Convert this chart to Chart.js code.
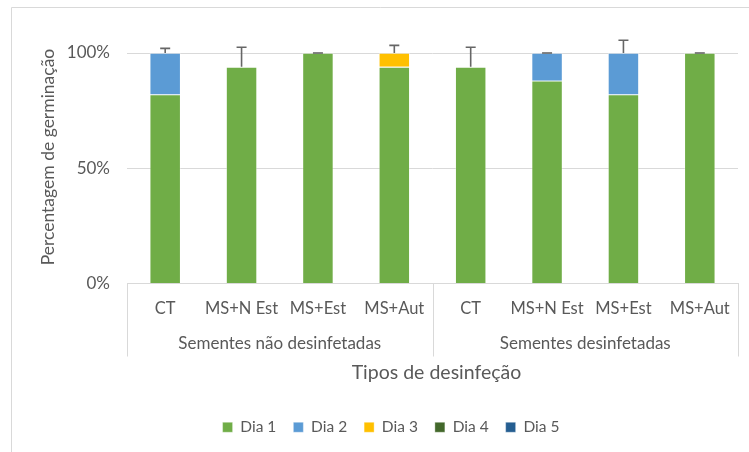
<!DOCTYPE html>
<html><head><meta charset="utf-8">
<script src="https://cdn.jsdelivr.net/npm/chart.js@4"></script>
<style>html,body{margin:0;padding:0;background:#fff}#wrap{width:749px;height:452px;position:relative}</style>
</head><body><div id="wrap"><canvas id="c" width="749" height="452"></canvas></div>
<script>
// ---- data ----
const categories = ['CT', 'MS+N Est', 'MS+Est', 'MS+Aut', 'CT', 'MS+N Est', 'MS+Est', 'MS+Aut'];
const groups = ['Sementes não desinfetadas', 'Sementes desinfetadas'];
const groupSizes = [4, 4];
const seriesNames = ['Dia 1', 'Dia 2', 'Dia 3', 'Dia 4', 'Dia 5'];
const dia1 = [82, 94, 100, 94, 94, 88, 82, 100];
const dia2 = [18, 0, 0, 0, 0, 12, 18, 0];
const dia3 = [0, 0, 0, 6, 0, 0, 0, 0];
const dia4 = [0, 0, 0, 0, 0, 0, 0, 0];
const dia5 = [0, 0, 0, 0, 0, 0, 0, 0];
const errPlus = [2, 8.5, 0, 3.3, 8.5, 0, 5.5, 0];
const yTickValues = [0, 50, 100];
const yTitle = 'Percentagem de germinação';
const xTitle = 'Tipos de desinfeção';
const seriesColors = ['#70AD47', '#5B9BD5', '#FFC000', '#43682B', '#255E91'];

const FONT = 'Lato, "Open Sans", sans-serif';
const TXT = '#595959';
const LINE = '#d9d9d9';

const seriesData = [dia1, dia2, dia3, dia4, dia5];
const datasets = seriesNames.map((n, k) => ({
  label: n, data: seriesData[k], backgroundColor: seriesColors[k],
  borderColor: 'rgba(255,255,255,0.45)', borderWidth: 0.8,
  barPercentage: 0.407, categoryPercentage: 1.0
}));

const extras = {
  id: 'extras',
  afterLayout(chart) {
    if (chart.legend) { chart.legend.left += 22; chart.legend.right += 22; }
  },
  beforeDraw(chart) {
    const ctx = chart.ctx;
    ctx.save();
    ctx.fillStyle = '#fff';
    ctx.fillRect(0, 0, chart.width, chart.height);
    ctx.strokeStyle = LINE; ctx.lineWidth = 1;
    ctx.beginPath();
    ctx.moveTo(11.5, chart.height); ctx.lineTo(11.5, 7.5); ctx.lineTo(chart.width, 7.5);
    ctx.stroke();
    ctx.restore();
  },
  afterDraw(chart) {
    const ctx = chart.ctx, xs = chart.scales.x, ys = chart.scales.y, ca = chart.chartArea;
    ctx.save();
    // error bars
    ctx.strokeStyle = '#666666'; ctx.lineWidth = 1.6;
    categories.forEach((c, i) => {
      const total = seriesData.reduce((s, d) => s + d[i], 0);
      const x = xs.getPixelForValue(i);
      const y0 = ys.getPixelForValue(total);
      const y1 = ys.getPixelForValue(total + errPlus[i]);
      ctx.beginPath();
      ctx.moveTo(x, y0); ctx.lineTo(x, y1);
      ctx.moveTo(x - 5, y1); ctx.lineTo(x + 5, y1);
      ctx.stroke();
    });
    // group separators
    ctx.strokeStyle = LINE; ctx.lineWidth = 1;
    const bot = ca.bottom + 73;
    let idx = 0;
    const bounds = [xs.left];
    groupSizes.forEach(g => { idx += g; bounds.push(idx < categories.length ? (xs.getPixelForValue(idx - 1) + xs.getPixelForValue(idx)) / 2 : xs.right); });
    bounds.forEach(b => { const bx = Math.round(b) + 0.5; ctx.beginPath(); ctx.moveTo(bx, ca.bottom); ctx.lineTo(bx, bot); ctx.stroke(); });
    ctx.fillStyle = TXT; ctx.textAlign = 'center'; ctx.textBaseline = 'middle';
    ctx.font = '17px ' + FONT;
    groups.forEach((g, k) => { ctx.fillText(g, (bounds[k] + bounds[k + 1]) / 2, ca.bottom + 60); });
    ctx.font = '19.5px ' + FONT;
    ctx.fillText(xTitle, (xs.left + xs.right) / 2 + 4, ca.bottom + 89);
    ctx.font = '17.5px ' + FONT;
    ctx.translate(48, 157); ctx.rotate(-Math.PI / 2);
    ctx.fillText(yTitle, 0, 0);
    ctx.restore();
  }
};

new Chart(document.getElementById('c'), {
  type: 'bar',
  data: { labels: categories, datasets },
  options: {
    responsive: false, animation: false, devicePixelRatio: 1,
    layout: { padding: { top: 53, right: 11, left: 0, bottom: 7 } },
    plugins: {
      tooltip: { enabled: false },
      legend: {
        position: 'bottom',
        labels: { boxWidth: 10, boxHeight: 10, padding: 17, color: TXT, font: { family: FONT, size: 15.5 } }
      }
    },
    scales: {
      x: {
        stacked: true,
        grid: { display: false, drawTicks: false },
        border: { display: true, color: LINE },
        ticks: { color: TXT, font: { family: FONT, size: 16.5 }, padding: 15, maxRotation: 0, autoSkip: false },
        afterFit(s) { s.height = 119; }
      },
      y: {
        stacked: true, min: 0, max: 100,
        afterBuildTicks(s) { s.ticks = yTickValues.map(v => ({ value: v })); },
        grid: { color: LINE, drawTicks: false },
        border: { display: false },
        ticks: { color: TXT, font: { family: FONT, size: 17 }, padding: 17, callback: v => v + '%' },
        afterFit(s) { s.width = 127; }
      }
    }
  },
  plugins: [extras]
});
</script></body></html>
